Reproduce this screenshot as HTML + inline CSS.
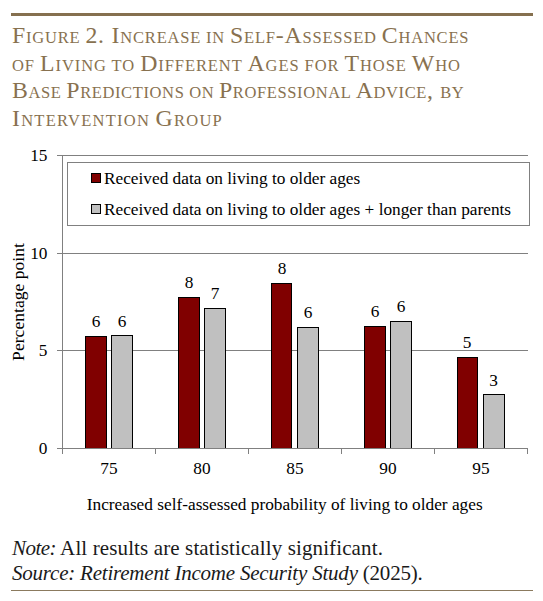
<!DOCTYPE html>
<html><head><meta charset="utf-8">
<style>
html,body{margin:0;padding:0;background:#fff;}
body{width:543px;height:601px;position:relative;overflow:hidden;}
.t{position:absolute;left:12px;font-family:"Liberation Serif",serif;font-size:23.8px;color:#88714f;white-space:nowrap;line-height:1;}
.n{position:absolute;left:12px;font-family:"Liberation Serif",serif;font-size:21px;color:#1a1a1a;white-space:nowrap;line-height:1;}
.sc{font-size:16.5px;}
svg{position:absolute;left:0;top:0;}
svg text{font-family:"Liberation Serif",serif;font-size:17.3px;fill:#000;}
</style></head><body>
<div style="position:absolute;left:11px;top:13px;width:522px;height:3px;background:#85704f"></div>
<div class="t" id="t1" style="top:23.7px;letter-spacing:0.8px">F<span class="sc">IGURE </span>2. I<span class="sc">NCREASE IN </span>S<span class="sc">ELF</span>-A<span class="sc">SSESSED </span>C<span class="sc">HANCES</span></div>
<div class="t" id="t2" style="top:52.1px;letter-spacing:0.925px"><span class="sc">OF </span>L<span class="sc">IVING TO </span>D<span class="sc">IFFERENT </span>A<span class="sc">GES FOR </span>T<span class="sc">HOSE </span>W<span class="sc">HO</span></div>
<div class="t" id="t3" style="top:79.1px;letter-spacing:0.62px">B<span class="sc">ASE </span>P<span class="sc">REDICTIONS ON </span>P<span class="sc">ROFESSIONAL </span>A<span class="sc">DVICE</span>, <span class="sc">BY</span></div>
<div class="t" id="t4" style="top:106.7px;letter-spacing:1.26px">I<span class="sc">NTERVENTION </span>G<span class="sc">ROUP</span></div>
<svg width="543" height="601" viewBox="0 0 543 601">
<g stroke="#808080" stroke-width="1" fill="none">
<line x1="57" y1="155.5" x2="528" y2="155.5"/>
<line x1="57" y1="253.5" x2="528" y2="253.5"/>
<line x1="57" y1="350.5" x2="528" y2="350.5"/>
<rect x="67.5" y="162.5" width="462" height="63"/>
</g>
<g stroke="#000" stroke-width="1">
<rect x="91.5" y="173.5" width="9" height="9" fill="#800000"/>
<rect x="91.5" y="204.5" width="9" height="9" fill="#c0c0c0"/>
<rect x="85.5" y="336.5" width="21" height="112" fill="#800000"/>
<rect x="111.5" y="335.5" width="21" height="113" fill="#c0c0c0"/>
<rect x="178.5" y="297.5" width="21" height="151" fill="#800000"/>
<rect x="204.5" y="308.5" width="21" height="140" fill="#c0c0c0"/>
<rect x="271.5" y="283.5" width="20" height="165" fill="#800000"/>
<rect x="297.5" y="327.5" width="21" height="121" fill="#c0c0c0"/>
<rect x="364.5" y="326.5" width="21" height="122" fill="#800000"/>
<rect x="390.5" y="321.5" width="21" height="127" fill="#c0c0c0"/>
<rect x="457.5" y="357.5" width="20" height="91" fill="#800000"/>
<rect x="483.5" y="394.5" width="21" height="54" fill="#c0c0c0"/>
</g>
<g stroke="#808080" stroke-width="1" fill="none">
<line x1="62.5" y1="155" x2="62.5" y2="454"/>
<line x1="57" y1="448.5" x2="528" y2="448.5"/>
<line x1="155.5" y1="448" x2="155.5" y2="454"/>
<line x1="248.5" y1="448" x2="248.5" y2="454"/>
<line x1="341.5" y1="448" x2="341.5" y2="454"/>
<line x1="434.5" y1="448" x2="434.5" y2="454"/>
<line x1="527.5" y1="448" x2="527.5" y2="454"/>
</g>
<text x="104" y="184.2">Received data on living to older ages</text>
<text x="104" y="215.4">Received data on living to older ages + longer than parents</text>
<g text-anchor="end">
<text x="47.5" y="160.5">15</text>
<text x="47.5" y="258.5">10</text>
<text x="47.5" y="355.5">5</text>
<text x="47.5" y="454">0</text>
</g>
<g text-anchor="middle">
<text x="96" y="327">6</text>
<text x="122" y="327">6</text>
<text x="189" y="288">8</text>
<text x="215" y="299">7</text>
<text x="282" y="274">8</text>
<text x="308" y="318">6</text>
<text x="375" y="317">6</text>
<text x="401" y="312">6</text>
<text x="467" y="348">5</text>
<text x="493.5" y="386">3</text>
<text x="109" y="474.3">75</text>
<text x="202" y="474.3">80</text>
<text x="295" y="474.3">85</text>
<text x="388" y="474.3">90</text>
<text x="481" y="474.3">95</text>
<text x="284.7" y="510">Increased self-assessed probability of living to older ages</text>
<text transform="translate(24.2,302) rotate(-90)" style="font-size:17.6px">Percentage point</text>
</g>
</svg>
<div class="n" id="n1" style="top:538.2px;letter-spacing:0.12px"><i style="letter-spacing:-0.55px">Note:</i> All results are statistically significant.</div>
<div class="n" id="n2" style="top:562.6px;letter-spacing:-0.21px"><i>Source: Retirement Income Security Study</i> (2025).</div>
<div style="position:absolute;left:11px;top:590px;width:522px;height:1px;background:#8b7a5e"></div>
</body></html>
